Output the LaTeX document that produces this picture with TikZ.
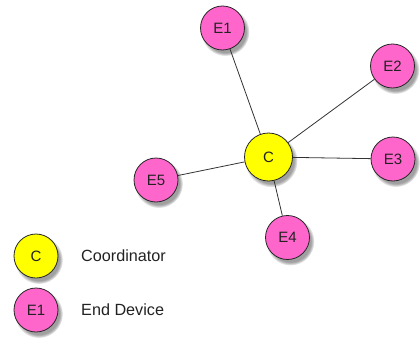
\documentclass[tikz,border=0pt]{standalone}
\usepackage{fontspec}
\setmainfont{Liberation Sans}
\usetikzlibrary{shadows}
\definecolor{pinkdev}{HTML}{FF66CC}
\definecolor{yelcoord}{HTML}{FFFF00}
\definecolor{txt}{HTML}{222222}
\definecolor{edgecol}{HTML}{333333}
\tikzset{
  dev/.style={circle, draw=black!85, line width=0.8pt, fill=pinkdev, minimum size=44pt, inner sep=0pt,
    font=\fontsize{15}{15}\selectfont, text=txt,
    circular drop shadow={shadow xshift=2.5pt, shadow yshift=-3.5pt, shadow scale=1.1, opacity=0.75}},
  coord/.style={dev, fill=yelcoord, minimum size=48pt},
  legcoord/.style={dev, fill=yelcoord},
  link/.style={draw=edgecol, line width=0.8pt},
  legtext/.style={anchor=west, font=\fontsize{16.2}{17}\selectfont, text=txt, inner sep=0pt}
}
\begin{document}
\begin{tikzpicture}[x=1pt,y=1pt]
\useasboundingbox (0,0) rectangle (420,-340);
\node[dev] (e1) at (222.5,-28) {E1};
\node[dev] (e2) at (392.5,-66) {E2};
\node[coord] (c) at (268.5,-157) {C};
\node[dev] (e3) at (393,-159) {E3};
\node[dev] (e5) at (156,-180) {E5};
\node[dev] (e4) at (287.5,-237.5) {E4};
\draw[link] (c) -- (e1);
\draw[link] (c) -- (e2);
\draw[link] (c) -- (e3);
\draw[link] (c) -- (e4);
\draw[link] (c) -- (e5);
\node[legcoord] (lc) at (36,-256) {C};
\node[dev] (le) at (36,-310) {E1};
\node[legtext] (tc) at (81,-256) {Coordinator};
\node[legtext] (te) at (81,-310) {End Device};
\end{tikzpicture}
\end{document}
